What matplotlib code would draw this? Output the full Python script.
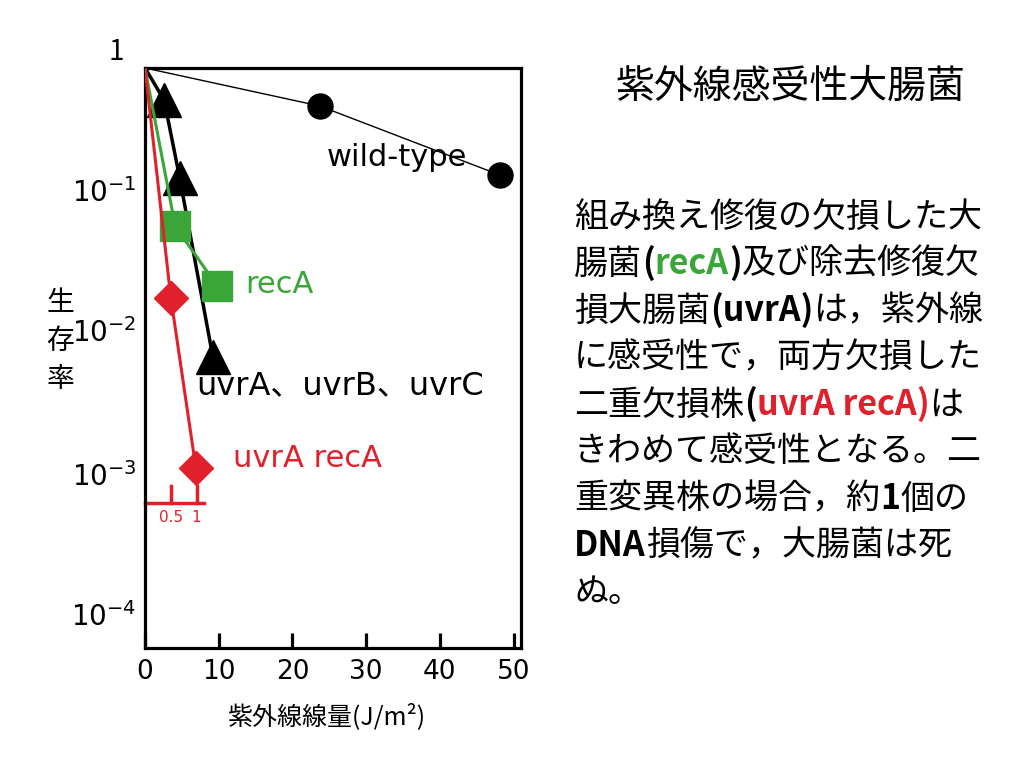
import matplotlib
matplotlib.use('Agg')
import matplotlib.pyplot as plt
import matplotlib.transforms as mtransforms

plt.rcParams['font.family'] = ['Noto Sans CJK JP', 'DejaVu Sans']

GREEN = '#3aa63a'
RED = '#e0202a'

# survival curves: UV dose (J/m2) vs surviving fraction
wt_dose = [0, 23.7, 48.1]
wt_surv = [1.0, 0.547, 0.183]

uvr_dose = [0, 2.6, 4.7, 9.2]
uvr_surv = [1.0, 0.60, 0.175, 0.0102]

reca_dose = [0, 4.1, 9.8]
reca_surv = [1.0, 0.081, 0.0314]

dbl_dose = [0, 3.5, 6.9]
dbl_surv = [1.0, 0.0261, 0.00174]

# lethal-hit scale under the uvrA recA curve
hit_dose = [3.5, 7.0]
hit_labels = ['0.5', '1']
hit_bar = [0, 8.0]
hit_level = 1e-3

x_ticks = [0, 10, 20, 30, 40, 50]
y_ticks = [1, 1e-1, 1e-2, 1e-3, 1e-4]
y_ticklabels = ['1', '$10^{-1}$', '$10^{-2}$', '$10^{-3}$', '$10^{-4}$']
y_label_raise = [0.20, 0.22, 0.28, 0.29, 0.34]   # inches, labels sit above their ticks

title = '紫外線感受性大腸菌'
# (text, colour, bold)
para = [
    [('組み換え修復の欠損した大', 'black', False)],
    [('腸菌', 'black', False), ('(', 'black', True), ('recA', GREEN, True),
     (')', 'black', True), ('及び除去修復欠', 'black', False)],
    [('損大腸菌', 'black', False), ('(uvrA)', 'black', True), ('は，紫外線', 'black', False)],
    [('に感受性で，両方欠損した', 'black', False)],
    [('二重欠損株', 'black', False), ('(', 'black', True), ('uvrA recA', RED, True),
     (')', RED, True), ('は', 'black', False)],
    [('きわめて感受性となる。二', 'black', False)],
    [('重変異株の場合，約', 'black', False), ('1', 'black', True), ('個の', 'black', False)],
    [('DNA', 'black', True), ('損傷で，大腸菌は死', 'black', False)],
    [('ぬ。', 'black', False)],
]

fig = plt.figure(figsize=(10.24, 7.68), dpi=100)
ax = fig.add_axes([145/1024, 1-648/768, 376/1024, 580/768])

ax.plot(wt_dose, wt_surv, color='black', lw=1.0, marker='o', ms=18,
        markevery=slice(1, None), zorder=3)
ax.plot(uvr_dose, uvr_surv, color='black', lw=2.5, marker='^', ms=24,
        markevery=slice(1, None), zorder=3)
ax.plot(reca_dose, reca_surv, color=GREEN, lw=2.2, marker='s', ms=21,
        markevery=slice(1, None), zorder=3)
ax.plot(dbl_dose, dbl_surv, color=RED, lw=2.2, marker='D', ms=17,
        markevery=slice(1, None), zorder=3)

# hit scale
ax.plot(hit_bar, [hit_level, hit_level], color=RED, lw=2.5, clip_on=False)
for d, lab in zip(hit_dose, hit_labels):
    ax.plot([d, d], [hit_level, hit_level*1.3], color=RED, lw=2.5)
    ax.text(d, hit_level*0.8, lab, color=RED, fontsize=11, ha='center', va='center',
            family='DejaVu Sans')

ax.set_yscale('log')
ax.set_xlim(0, 51)
ax.set_ylim(1e-4, 1)

lab_font = ['DejaVu Sans', 'Noto Sans CJK JP']
ax.text(24.6, 0.243, 'wild-type', fontsize=22, va='center', ha='left', family=lab_font)
ax.text(13.6, 0.0319, 'recA', fontsize=22, va='center', ha='left', color=GREEN,
        family=lab_font)
ax.text(7.0, 0.0064, 'uvrA、uvrB、uvrC', fontsize=23, va='center', ha='left',
        family=lab_font)
ax.text(12.0, 0.00204, 'uvrA recA', fontsize=22, va='center', ha='left', color=RED,
        family=lab_font)

for s in ax.spines.values():
    s.set_linewidth(2.3)

ax.set_xticks(x_ticks)
ax.set_xticklabels([str(v) for v in x_ticks], family='DejaVu Sans')
ax.tick_params(axis='x', direction='in', length=11, width=2.3, labelsize=19, pad=8)

ax.set_yticks(y_ticks)
ax.set_yticklabels(y_ticklabels)
ax.set_yticks([1e-1, 1e-2], minor=True)
ax.set_yticklabels([], minor=True)
ax.tick_params(axis='y', which='major', length=0, labelsize=20, pad=6)
ax.tick_params(axis='y', which='minor', direction='in', length=11, width=2.3)
for lab, r in zip(ax.get_yticklabels(), y_label_raise):
    shift = mtransforms.ScaledTranslation(0, r, fig.dpi_scale_trans)
    lab.set_transform(lab.get_transform() + shift)
ax.get_yticklabels()[0].set_x(-0.034)

ax.text(-0.226, 0.53, '生\n存\n率', transform=ax.transAxes, fontsize=20,
        ha='center', va='center', linespacing=1.35)

ax.set_xlabel('紫外線線量(J/m²)', fontsize=18, va='center')
ax.xaxis.set_label_coords(0.484, -0.119)

fig.text(790/1024, 1-87/768, title, fontsize=28, ha='center', va='center')

y0 = 1 - 217/768
dy = 47/768
for i, line in enumerate(para):
    prev = None
    for txt, col, bold in line:
        wt = 'bold' if bold else 'normal'
        if prev is None:
            prev = fig.text(574/1024, y0 - i*dy, txt, color=col, fontsize=24.5,
                            ha='left', va='center', weight=wt)
        else:
            prev = ax.annotate(txt, xy=(1, 0), xycoords=prev, color=col,
                               fontsize=24.5, ha='left', va='bottom', weight=wt)

fig.savefig('out.png', dpi=100)
